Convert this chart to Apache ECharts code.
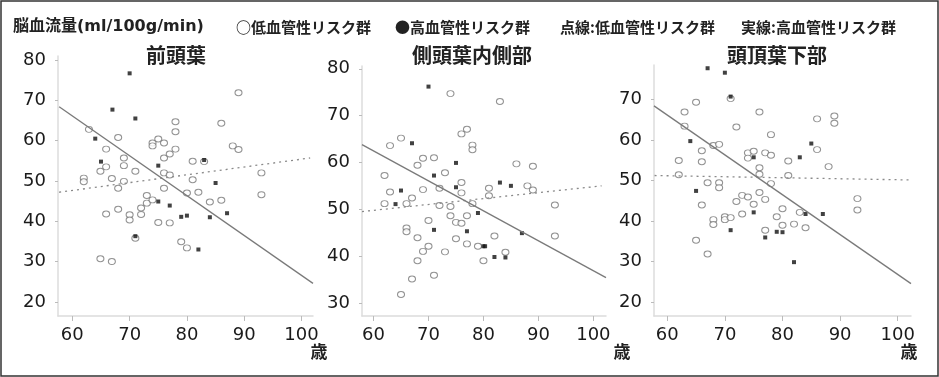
<!DOCTYPE html>
<html>
<head>
<meta charset="utf-8">
<script src="https://cdn.jsdelivr.net/npm/echarts@6/dist/echarts.min.js"></script>
<style>
  html, body { margin: 0; padding: 0; background: #fff; }
  #chart { width: 939px; height: 377px; }
</style>
</head>
<body>
<div id="chart"></div>
<script>
// 年齢 (歳) と 脳血流量 (ml/100g/min) の組

// 前頭葉
const frontalLow = [[62.9,62.8],[62,50.7],[62,49.8],[64.9,52.4],[64.9,30.7],[65.9,57.9],[65.9,53.5],[65.9,41.8],[66.9,50.6],[66.9,30],[68,60.8],[68,48.2],[68,43],[69,55.7],[69,53.8],[69,49.9],[70,41.6],[70,40.3],[71,52.4],[71,35.8],[72,43.3],[72,41.7],[73,46.4],[73,44.5],[74,45.3],[74,59.4],[74,58.7],[75,60.4],[75,39.7],[76,59.4],[76,55.7],[76,52],[76,48.2],[77,56.7],[77,51.5],[77,39.6],[78,64.7],[78,62.2],[78,57.9],[79,34.9],[80,47],[80,33.4],[81,54.9],[81,50.3],[82,47.2],[83,54.8],[84,44.8],[86,64.3],[86,45.2],[88,58.7],[89,57.8],[89,71.9],[93,52],[93,46.6]];
const frontalHigh = [[70,76.7],[67,67.7],[71,65.5],[64,60.5],[65,54.8],[75,53.8],[83,55.2],[85,49.5],[75,44.9],[77,43.9],[79,41.1],[80,41.4],[84,41],[87,42],[71,36.3],[82,33]];
const frontalSolid = [[57.7,68.4],[102,24.6]];
const frontalDotted = [[57.7,47.2],[101.5,55.7]];

// 側頭葉内側部
const medialLow = [[74,74.7],[65,65.2],[63,63.6],[76,66.1],[77,67.1],[78,63.7],[78,62.7],[69,60.9],[71,61],[68,59.4],[73,57.8],[62,57.2],[76,55.7],[76,53.5],[63,53.7],[67,52.4],[69,54.2],[72,54.5],[62,51.2],[66,51.2],[72,50.8],[74,50.6],[78,51.2],[70,47.6],[75,47.2],[76,47],[74,48.6],[77,48.6],[66,46],[66,45.2],[68,43.9],[75,43.7],[77,42.6],[79,42.1],[70,42.1],[69,41],[73,40.9],[68,39],[80,39],[67,35.1],[71,35.9],[65,31.8],[83,73],[86,59.7],[89,59.2],[81,54.5],[81,52.9],[88,55],[89,54.1],[93,50.9],[82,44.3],[93,44.3],[84,40.8]];
const medialHigh = [[70,76.2],[67,64.1],[75,59.9],[71,57.2],[75,54.7],[65,54],[64,51.1],[83,55.7],[85,55],[79,49.2],[71,45.6],[77,45.3],[80,42.1],[80.3,42.1],[87,44.9],[82,39.8],[84,39.7]];
const medialSolid = [[57.9,63.8],[102.3,35.4]];
const medialDotted = [[57.9,49.5],[101.5,55]];

// 頭頂葉下部
const parietalLow = [[65,69.3],[63,66.9],[63,63.4],[71,70.2],[76,66.9],[72,63.2],[78,61.3],[68,58.6],[69,58.9],[66,57.3],[66,54.6],[62,54.9],[62,51.4],[74,56.8],[74,55.5],[75,57.2],[77,56.8],[78,56.2],[76,53.1],[76,51.5],[67,49.4],[69,49.4],[69,48.2],[78,49.2],[76,47],[77,45.3],[66,43.9],[73,46.3],[74,45.9],[72,44.8],[73,41.7],[75,44.1],[68,40.3],[68,39.1],[70,41],[70,40.3],[71,40.8],[65,35.2],[67,31.8],[77,37.7],[79,41],[86,65.2],[89,65.9],[89,64.1],[81,54.8],[81,51.2],[86,57.6],[88,53.4],[93,45.5],[93,42.7],[80,43],[80,38.9],[83,42.1],[82,39.2],[84,38.3]];
const parietalHigh = [[67,77.7],[70,76.6],[71,70.7],[64,59.7],[75,55.7],[65,47.4],[75,42.1],[71,37.7],[77,35.9],[79,37.3],[80,37.2],[82,29.8],[83,55.7],[85,59.1],[84,41.7],[87,41.7]];
const parietalSolid = [[57.7,68.4],[102.3,24.5]];
const parietalDotted = [[57.8,51.2],[102.3,50.1]];

const xTicks = [60, 70, 80, 90, 100];
const yTicksFrontal = [20, 30, 40, 50, 60, 70, 80];
const yTicksMedial = [30, 40, 50, 60, 70, 80];
const yTicksParietal = [20, 30, 40, 50, 60, 70];

const titles = ['前頭葉', '側頭葉内側部', '頭頂葉下部'];
const headerTexts = ['脳血流量(ml/100g/min)', '○低血管性リスク群', '●高血管性リスク群', '点線:低血管性リスク群', '実線:高血管性リスク群'];

const panels = [
  { low: frontalLow, high: frontalHigh, solid: frontalSolid, dotted: frontalDotted, yTicks: yTicksFrontal,
    grid: { left: 58, top: 56, width: 255, height: 260 }, xRange: [57.5, 102], yRange: [16.5, 81], titleX: 176, unitX: 319 },
  { low: medialLow, high: medialHigh, solid: medialSolid, dotted: medialDotted, yTicks: yTicksMedial,
    grid: { left: 362, top: 66, width: 244, height: 250 }, xRange: [57.9, 102.3], yRange: [27.2, 80.6], titleX: 472, unitX: 622 },
  { low: parietalLow, high: parietalHigh, solid: parietalSolid, dotted: parietalDotted, yTicks: yTicksParietal,
    grid: { left: 654, top: 65, width: 257, height: 251 }, xRange: [57.7, 102.3], yRange: [16.5, 78.5], titleX: 777, unitX: 909 }
];

const labelFont = { fontFamily: 'DejaVu Sans', fontSize: 18, color: '#1a1a1a' };
const axisGray = '#dcdcdc';

const grid = [], xAxis = [], yAxis = [], series = [];
panels.forEach((p, i) => {
  grid.push(p.grid);
  xAxis.push({
    type: 'value', gridIndex: i, min: p.xRange[0], max: p.xRange[1],
    axisLine: { show: true, onZero: false, lineStyle: { color: axisGray, width: 1.5 } },
    axisTick: { show: true, customValues: xTicks, length: 5, lineStyle: { color: '#bbb' } },
    axisLabel: { ...labelFont, customValues: xTicks, margin: 10 },
    splitLine: { show: false }
  });
  yAxis.push({
    type: 'value', gridIndex: i, min: p.yRange[0], max: p.yRange[1],
    axisLine: { show: true, onZero: false, lineStyle: { color: axisGray, width: 1.5 } },
    axisTick: { show: true, customValues: p.yTicks, length: 3, lineStyle: { color: '#bbb' } },
    axisLabel: { ...labelFont, customValues: p.yTicks, margin: 12 },
    splitLine: { show: false }
  });
  series.push({
    type: 'line', xAxisIndex: i, yAxisIndex: i, data: p.dotted, symbol: 'none', silent: true,
    lineStyle: { color: '#8a8a8a', width: 1.3, type: [2, 4] }
  });
  series.push({
    type: 'line', xAxisIndex: i, yAxisIndex: i, data: p.solid, symbol: 'none', silent: true,
    lineStyle: { color: '#7a7a7a', width: 1.3 }
  });
  series.push({
    type: 'scatter', xAxisIndex: i, yAxisIndex: i, data: p.low, symbol: 'circle', symbolSize: [7, 6],
    itemStyle: { color: '#fff', borderColor: '#777', borderWidth: 1 }
  });
  series.push({
    type: 'scatter', xAxisIndex: i, yAxisIndex: i, data: p.high, symbol: 'rect', symbolSize: 4,
    itemStyle: { color: '#111' }
  });
});

// 見出し行: 単位は幅の広い欧文字体、凡例は和文字体
const headerX = [13, 236, 395, 560, 741];
const headerFonts = [
  'bold 16px "DejaVu Sans", "Noto Sans CJK JP"',
  'bold 15px "Noto Sans CJK JP"',
  'bold 15px "Noto Sans CJK JP"',
  'bold 15px "Noto Sans CJK JP"',
  'bold 15px "Noto Sans CJK JP"'
];
const graphic = [
  { type: 'rect', shape: { x: 1, y: 1, width: 937, height: 375 }, style: { fill: 'none', stroke: '#333', lineWidth: 1.5 } }
];
headerTexts.forEach((t, i) => {
  graphic.push({ type: 'text', x: headerX[i], y: 27,
    style: { text: t, font: headerFonts[i], fill: '#222', verticalAlign: 'middle' } });
});
panels.forEach((p, i) => {
  graphic.push({ type: 'text', x: p.titleX, y: 55,
    style: { text: titles[i], font: 'bold 20px "Noto Sans CJK JP"', fill: '#222', align: 'center', verticalAlign: 'middle' } });
  graphic.push({ type: 'text', x: p.unitX, y: 352,
    style: { text: '歳', font: 'bold 17px "Noto Sans CJK JP"', fill: '#222', align: 'center', verticalAlign: 'middle' } });
});

const chart = echarts.init(document.getElementById('chart'));
chart.setOption({
  animation: false,
  backgroundColor: '#fff',
  grid, xAxis, yAxis, series, graphic
});
</script>
</body>
</html>
